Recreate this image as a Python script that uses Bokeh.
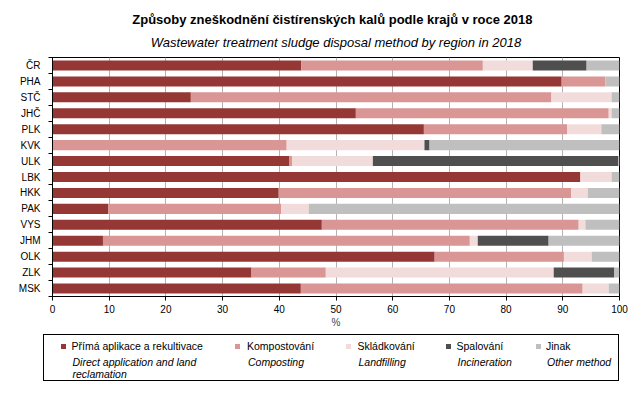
from bokeh.plotting import figure
from bokeh.layouts import column
from bokeh.models import Range1d, FixedTicker, Title, ColumnDataSource, Div
from bokeh.embed import file_html
from bokeh.resources import INLINE

regions = ["ČR", "PHA", "STČ", "JHČ", "PLK", "KVK", "ULK", "LBK", "HKK", "PAK",
           "VYS", "JHM", "OLK", "ZLK", "MSK"]
direct = [43.9, 89.8, 24.4, 53.5, 65.5, 0.0, 41.8, 93.1, 39.9, 9.8, 47.5, 8.9, 67.4, 35.1, 43.8]
compost = [32.0, 7.7, 63.6, 44.6, 25.3, 41.3, 0.5, 0.0, 51.6, 30.5, 45.3, 64.7, 22.8, 13.1, 49.7]
landfill = [8.8, 0.0, 10.6, 0.5, 6.0, 24.3, 14.2, 5.5, 2.9, 4.9, 1.2, 1.4, 4.9, 40.2, 4.6]
incin = [9.5, 0.0, 0.0, 0.0, 0.0, 0.9, 43.3, 0.0, 0.0, 0.0, 0.0, 12.5, 0.0, 10.7, 0.0]
other = [5.8, 2.5, 1.4, 1.4, 3.2, 33.5, 0.2, 1.4, 5.6, 54.8, 6.0, 12.5, 4.9, 0.9, 1.9]
x_ticks = [0, 10, 20, 30, 40, 50, 60, 70, 80, 90, 100]

series_keys = ["direct", "compost", "landfill", "incin", "other"]
colors = ["#953735", "#DA9694", "#F2DCDB", "#4F4F4F", "#BFBFBF"]
labels_cz = ["Přímá aplikace a rekultivace", "Kompostování", "Skládkování", "Spalování", "Jinak"]
labels_en = [["Direct application and land", "reclamation"], ["Composting"], ["Landfilling"],
             ["Incineration"], ["Other method"]]

FONT = "Liberation Sans"

ypos = [i + 0.5 for i in range(len(regions))]
src = ColumnDataSource(dict(y=ypos, direct=direct, compost=compost, landfill=landfill,
                            incin=incin, other=other))

p = figure(width=643, height=333, output_backend="svg", toolbar_location=None,
           x_range=Range1d(0, 100), y_range=Range1d(len(regions), 0),
           min_border_left=52, min_border_right=24, min_border_top=57, min_border_bottom=37)

p.hbar_stack(series_keys, y="y", height=0.63, color=colors, line_width=0, source=src)

p.add_layout(Title(text="Wastewater treatment sludge disposal method by region in 2018",
                   text_font=FONT, text_font_style="italic", text_font_size="13px",
                   align="center", standoff=16, text_color="#000000"), "above")
p.add_layout(Title(text="Způsoby  zneškodnění čistírenských  kalů podle krajů v roce 2018",
                   text_font=FONT, text_font_style="bold", text_font_size="13px",
                   align="center", standoff=-4, text_color="#000000"), "above")

p.xaxis.ticker = FixedTicker(ticks=x_ticks)
p.xaxis.axis_label = "%"
p.xaxis.axis_label_text_font = FONT
p.xaxis.axis_label_text_font_style = "normal"
p.xaxis.axis_label_text_font_size = "10px"
p.xaxis.axis_label_standoff = 1
p.xaxis.major_label_text_font = FONT
p.xaxis.major_label_text_font_size = "10px"
p.xaxis.major_label_standoff = 4
p.xaxis.major_tick_in = 0
p.xaxis.major_tick_out = 4

p.yaxis.ticker = FixedTicker(ticks=ypos, minor_ticks=list(range(len(regions) + 1)))
p.yaxis.major_label_overrides = {y: r for y, r in zip(ypos, regions)}
p.yaxis.major_label_text_font = FONT
p.yaxis.major_label_text_font_size = "10px"
p.yaxis.major_tick_in = 0
p.yaxis.major_tick_out = 0
p.yaxis.minor_tick_in = 0
p.yaxis.minor_tick_out = 4
p.yaxis.major_label_standoff = 8

for ax in (p.xaxis, p.yaxis):
    ax.axis_line_color = "black"
    ax.major_tick_line_color = "black"
    ax.major_label_text_color = "black"
p.xaxis.minor_tick_line_color = None
p.yaxis.minor_tick_line_color = "black"

p.xgrid.grid_line_color = "#B3B3B3"
p.xgrid.grid_line_width = 1
p.ygrid.grid_line_color = None
p.outline_line_color = "black"
p.outline_line_width = 1
p.background_fill_color = "white"
p.border_fill_color = "white"

# legend block (HTML, positioned in pixels below the chart)
mx = [63, 237, 348, 448, 538]
tx = [71.5, 247, 357.5, 456.5, 546]
parts = ['<div style="position:relative;width:643px;height:64px;'
         'font-family:\'Liberation Sans\',Arial,sans-serif;font-size:10.5px;'
         'line-height:12px;color:#000;">',
         '<div style="position:absolute;left:43px;top:1px;width:576px;height:47px;'
         'border:1px solid #000;"></div>']
for m, t, c, lab, en in zip(mx, tx, colors, labels_cz, labels_en):
    parts.append(f'<div style="position:absolute;left:{m - 2.5}px;top:10.5px;width:5px;'
                 f'height:5px;background:{c};"></div>')
    parts.append(f'<span style="position:absolute;left:{t}px;top:7px;'
                 f'white-space:nowrap;">{lab}</span>')
    for j, line in enumerate(en):
        parts.append(f'<span style="position:absolute;left:{t + 1}px;top:{23 + 11.5 * j}px;'
                     f'white-space:nowrap;font-style:italic;">{line}</span>')
parts.append('</div>')
legend_div = Div(text="".join(parts), width=643, height=64, margin=(0, 0, 0, 0))

layout = column(p, legend_div, spacing=0)
open("out.html", "w").write(file_html(layout, INLINE))
